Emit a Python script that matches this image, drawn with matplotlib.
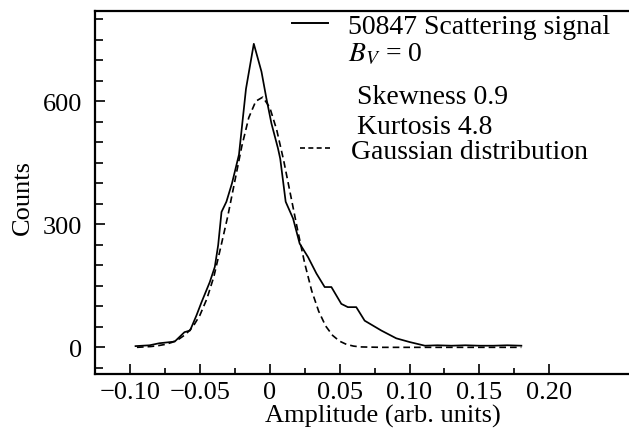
import numpy as np
import matplotlib
matplotlib.use("Agg")
import matplotlib.pyplot as plt
from matplotlib.ticker import MultipleLocator, FixedLocator, FuncFormatter

# Scattering signal histogram
signal_x = [-0.096, -0.086, -0.079, -0.068, -0.061, -0.057, -0.0524, -0.0488,
            -0.0429, -0.0393, -0.0369, -0.0345, -0.031, -0.027, -0.022, -0.017,
            -0.0114, -0.0059, -0.0024, 0.0012, 0.0059, 0.0075, 0.0114, 0.0167,
            0.0214, 0.0274, 0.0334, 0.0393, 0.0441, 0.0512, 0.0559, 0.0619,
            0.0679, 0.0798, 0.0905, 0.100, 0.111, 0.12, 0.13, 0.14, 0.15,
            0.16, 0.17, 0.18]
signal_y = [3, 5, 10, 14, 37, 41, 78, 110,
            159, 196, 249, 330, 355, 400, 470, 630,
            740, 672, 607, 546, 485, 460, 355, 314,
            253, 220, 180, 147, 147, 106, 98, 98,
            65, 41, 22, 13, 4, 5, 4, 5, 4,
            4, 5, 4]

# Gaussian fit (dashed)
gauss_x = [-0.095, -0.090, -0.085, -0.080, -0.075, -0.070, -0.065, -0.060,
           -0.055, -0.050, -0.045, -0.040, -0.035, -0.030, -0.025, -0.020,
           -0.015, -0.010, -0.005, 0.000, 0.005, 0.010, 0.015, 0.020,
           0.025, 0.030, 0.035, 0.040, 0.045, 0.050, 0.055, 0.060,
           0.065, 0.080, 0.100, 0.120, 0.140, 0.160, 0.180]
gauss_y = [0, 1, 2, 4, 7, 12, 20, 32,
           50, 78, 118, 172, 245, 320, 405, 490,
           560, 600, 610, 585, 530, 455, 370, 285,
           205, 138, 88, 52, 29, 15, 7, 3,
           1, 0, 0, 0, 0, 0, 0]

x_major = [-0.10, -0.05, 0.0, 0.05, 0.10, 0.15, 0.20]
y_major = [0, 300, 600]

legend_signal = "50847 Scattering signal"
legend_gauss = "Gaussian distribution"
notes = ["$B_V$ = 0", "Skewness 0.9", "Kurtosis 4.8"]

plt.rcParams['font.family'] = ['Liberation Serif', 'DejaVu Serif']
plt.rcParams['mathtext.fontset'] = 'stix'
FS = 19      # ticks and axis labels
FS_LEG = 20  # legend / annotation text

W, H = 629, 431
fig = plt.figure(figsize=(W / 100, H / 100), dpi=100)
ax = fig.add_axes([95 / W, 1 - 375 / H, 1 - 95 / W, (375 - 12) / H])

line_sig, = ax.plot(signal_x, signal_y, color='black', lw=1.25)
line_gau, = ax.plot(gauss_x, gauss_y, color='black', lw=1.2,
                    dashes=(4.0, 2.4))

ax.set_xlim(-0.125, 0.257)
ax.set_ylim(-65, 820)

ax.xaxis.set_major_locator(FixedLocator(x_major))
ax.xaxis.set_minor_locator(FixedLocator(np.arange(-0.125, 0.20, 0.025)))
ax.yaxis.set_major_locator(FixedLocator(y_major))
ax.yaxis.set_minor_locator(MultipleLocator(50))


def fmt_x(v, pos):
    if abs(v) < 1e-9:
        return "0"
    return f"{v:.2f}".replace("-", "\u2212")


ax.xaxis.set_major_formatter(FuncFormatter(fmt_x))
ax.tick_params(axis='both', which='both', direction='in', labelsize=FS,
               width=1.2)
ax.tick_params(axis='x', which='major', length=7, pad=5)
ax.tick_params(axis='x', which='minor', length=4)
ax.tick_params(axis='y', which='major', length=7, pad=9)
ax.tick_params(axis='y', which='minor', length=6)

for s in ['left', 'bottom', 'top']:
    ax.spines[s].set_linewidth(1.6)
ax.spines['right'].set_visible(False)

ax.set_xlabel("Amplitude (arb. units)", fontsize=FS)
ax.set_ylabel("Counts", fontsize=FS)
ax.xaxis.set_label_coords((383 - 95) / (W - 95), -(416 - 375) / (375 - 12))
ax.yaxis.set_label_coords(-(95 - 23) / (W - 95), (375 - 198) / (375 - 12))
ax.xaxis.label.set_va('center')
ax.yaxis.label.set_va('center')

# legend entries with line samples
leg_sig = ax.legend([line_sig], [legend_signal], loc='center left',
                    bbox_to_anchor=(292 / W, 1 - 27 / H),
                    bbox_transform=fig.transFigure, frameon=False,
                    fontsize=FS_LEG, borderpad=0, borderaxespad=0,
                    handlelength=1.3, handletextpad=0.72)
ax.add_artist(leg_sig)
for h in leg_sig.legend_handles:
    h.set_linewidth(1.4)
leg_gau = ax.legend([line_gau], [legend_gauss], loc='center left',
                    bbox_to_anchor=(300 / W, 1 - 152 / H),
                    bbox_transform=fig.transFigure, frameon=False,
                    fontsize=FS_LEG, borderpad=0, borderaxespad=0,
                    handlelength=1.2, handletextpad=0.62)
for h in leg_gau.legend_handles:
    h.set_dashes((3.0, 2.0))

fig.text(348 / W, 1 - 55 / H, notes[0], fontsize=FS_LEG, va='center')
fig.text(357 / W, 1 - 98 / H, notes[1], fontsize=FS_LEG, va='center')
fig.text(357 / W, 1 - 127 / H, notes[2], fontsize=FS_LEG, va='center')

fig.savefig("out.png", dpi=100)
